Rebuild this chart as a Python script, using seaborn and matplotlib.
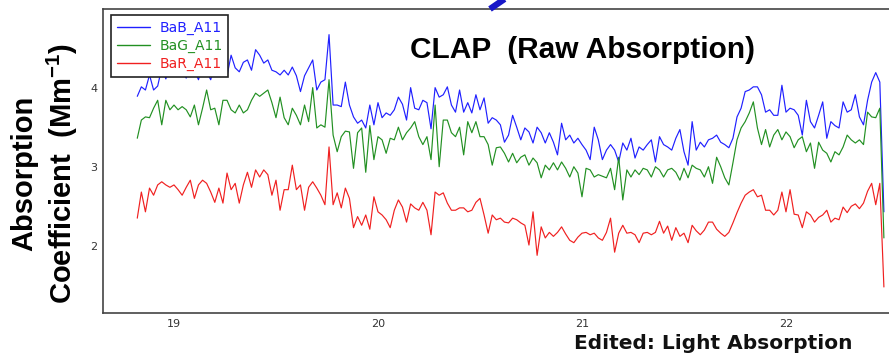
import matplotlib
matplotlib.use("Agg")
import matplotlib.pyplot as plt
import seaborn as sns
import pandas as pd
from matplotlib.ticker import MultipleLocator, FixedLocator, FixedFormatter
from matplotlib.lines import Line2D

# ---------------- data ----------------
time_days = [
    18.82, 18.84, 18.86, 18.88, 18.90, 18.92, 18.94, 18.96, 18.98, 19.00,
    19.02, 19.04, 19.06, 19.08, 19.10, 19.12, 19.14, 19.16, 19.18, 19.20,
    19.22, 19.24, 19.26, 19.28, 19.30, 19.32, 19.34, 19.36, 19.38, 19.40,
    19.42, 19.44, 19.46, 19.48, 19.50, 19.52, 19.54, 19.56, 19.58, 19.60,
    19.62, 19.64, 19.66, 19.68, 19.70, 19.72, 19.74, 19.76, 19.78, 19.80,
    19.82, 19.84, 19.86, 19.88, 19.90, 19.92, 19.94, 19.96, 19.98, 20.00,
    20.02, 20.04, 20.06, 20.08, 20.10, 20.12, 20.14, 20.16, 20.18, 20.20,
    20.22, 20.24, 20.26, 20.28, 20.30, 20.32, 20.34, 20.36, 20.38, 20.40,
    20.42, 20.44, 20.46, 20.48, 20.50, 20.52, 20.54, 20.56, 20.58, 20.60,
    20.62, 20.64, 20.66, 20.68, 20.70, 20.72, 20.74, 20.76, 20.78, 20.80,
    20.82, 20.84, 20.86, 20.88, 20.90, 20.92, 20.94, 20.96, 20.98, 21.00,
    21.02, 21.04, 21.06, 21.08, 21.10, 21.12, 21.14, 21.16, 21.18, 21.20,
    21.22, 21.24, 21.26, 21.28, 21.30, 21.32, 21.34, 21.36, 21.38, 21.40,
    21.42, 21.44, 21.46, 21.48, 21.50, 21.52, 21.54, 21.56, 21.58, 21.60,
    21.62, 21.64, 21.66, 21.68, 21.70, 21.72, 21.74, 21.76, 21.78, 21.80,
    21.82, 21.84, 21.86, 21.88, 21.90, 21.92, 21.94, 21.96, 21.98, 22.00,
    22.02, 22.04, 22.06, 22.08, 22.10, 22.12, 22.14, 22.16, 22.18, 22.20,
    22.22, 22.24, 22.26, 22.28, 22.30, 22.32, 22.34, 22.36, 22.38, 22.40,
    22.42, 22.44, 22.46, 22.48,
]

bab_a11 = [
    3.89, 4.01, 3.97, 4.16, 3.97, 4.02, 4.25, 4.11, 4.27, 4.16,
    4.32, 4.20, 4.12, 4.32, 4.22, 4.10, 4.29, 4.20, 4.10, 4.30,
    4.20, 4.35, 4.15, 4.41, 4.25, 4.20, 4.32, 4.35, 4.22, 4.48,
    4.41, 4.31, 4.35, 4.22, 4.20, 4.16, 4.22, 4.16, 4.26, 4.15,
    3.95, 4.15, 4.25, 4.35, 3.97, 4.07, 4.10, 4.67, 3.78, 3.78,
    3.76, 4.07, 3.78, 3.63, 3.55, 3.59, 3.49, 3.78, 3.53, 3.81,
    3.62, 3.68, 3.65, 3.72, 3.88, 3.79, 3.59, 4.00, 3.74, 3.72,
    3.84, 3.81, 3.48, 4.00, 3.88, 3.91, 4.01, 3.78, 3.69, 3.97,
    3.69, 3.81, 3.68, 3.91, 3.72, 3.87, 3.55, 3.62, 3.59, 3.53,
    3.31, 3.40, 3.65, 3.50, 3.34, 3.49, 3.44, 3.30, 3.50, 3.43,
    3.30, 3.43, 3.31, 3.15, 3.55, 3.34, 3.40, 3.30, 3.36, 3.28,
    3.21, 3.09, 3.50, 3.34, 3.09, 3.21, 3.28, 3.21, 3.06, 3.30,
    3.21, 3.36, 3.11, 3.25, 3.21, 3.28, 3.34, 3.06, 3.38, 3.28,
    3.25, 3.21, 3.36, 3.47, 3.19, 3.02, 3.57, 3.21, 3.31, 3.25,
    3.34, 3.36, 3.40, 3.31, 3.28, 3.24, 3.36, 3.63, 3.74, 3.95,
    3.97, 4.01, 4.01, 3.91, 3.69, 3.72, 3.65, 3.65, 4.03, 3.69,
    3.74, 3.72, 3.65, 3.40, 3.84, 3.57, 3.49, 3.65, 3.82, 3.36,
    3.57, 3.52, 3.49, 3.82, 3.69, 3.72, 3.91, 3.63, 3.53, 3.84,
    4.07, 4.19, 4.07, 2.43,
]

bag_a11 = [
    3.36, 3.59, 3.63, 3.62, 3.74, 3.84, 3.53, 3.84, 3.72, 3.78,
    3.72, 3.76, 3.72, 3.63, 3.78, 3.53, 3.74, 3.97, 3.72, 3.74,
    3.53, 3.84, 3.84, 3.72, 3.68, 3.78, 3.68, 3.72, 3.84, 3.93,
    3.89, 3.93, 3.97, 3.81, 3.62, 3.88, 3.62, 3.53, 3.74, 3.65,
    3.53, 3.78, 3.57, 4.00, 3.49, 3.53, 3.50, 4.10, 3.40, 3.19,
    3.38, 3.45, 3.44, 2.98, 3.43, 3.49, 2.93, 3.52, 3.09, 3.38,
    3.34, 3.17, 3.36, 3.34, 3.50, 3.34, 3.43, 3.49, 3.57, 3.38,
    3.28, 3.38, 3.09, 3.78, 3.00, 3.59, 3.59, 3.43, 3.38, 3.50,
    3.15, 3.57, 3.43, 3.57, 3.38, 3.38, 3.28, 3.02, 3.24, 3.25,
    3.17, 3.06, 3.17, 3.05, 3.12, 3.15, 3.02, 3.11, 3.05, 2.86,
    3.02, 2.96, 3.05, 2.96, 3.06, 2.98, 2.87, 3.00, 2.92, 2.62,
    2.98, 2.96, 2.87, 2.90, 2.88, 2.86, 2.98, 2.71, 3.12, 2.58,
    2.96, 2.87, 2.96, 2.90, 2.98, 2.96, 2.87, 3.00, 2.96, 2.87,
    2.96, 2.98, 2.93, 2.83, 2.98, 2.86, 3.02, 2.98, 2.96, 2.87,
    3.00, 2.79, 3.12, 3.00, 2.86, 2.77, 3.05, 3.34, 3.49, 3.57,
    3.68, 3.82, 3.49, 3.28, 3.47, 3.25, 3.40, 3.47, 3.34, 3.44,
    3.38, 3.24, 3.34, 3.38, 3.19, 3.30, 2.98, 3.31, 3.21, 3.17,
    3.06, 3.19, 3.15, 3.25, 3.40, 3.34, 3.30, 3.34, 3.28, 3.69,
    3.63, 3.62, 3.74, 2.10,
]

bar_a11 = [
    2.35, 2.68, 2.43, 2.73, 2.64, 2.77, 2.81, 2.77, 2.74, 2.77,
    2.71, 2.64, 2.74, 2.83, 2.60, 2.77, 2.83, 2.79, 2.68, 2.55,
    2.73, 2.54, 2.92, 2.71, 2.79, 2.54, 2.77, 2.93, 2.74, 2.96,
    2.87, 2.96, 2.90, 2.64, 2.83, 2.45, 2.71, 2.71, 3.02, 2.71,
    2.77, 2.45, 2.74, 2.81, 2.73, 2.64, 2.52, 3.25, 2.52, 2.67,
    2.48, 2.73, 2.60, 2.23, 2.37, 2.26, 2.39, 2.21, 2.62, 2.43,
    2.39, 2.33, 2.23, 2.45, 2.58, 2.49, 2.30, 2.53, 2.48, 2.45,
    2.55, 2.45, 2.14, 2.68, 2.64, 2.67, 2.54, 2.45, 2.45, 2.48,
    2.48, 2.43, 2.45, 2.55, 2.60, 2.39, 2.16, 2.39, 2.33, 2.35,
    2.30, 2.29, 2.35, 2.33, 2.29, 2.26, 2.01, 2.43, 1.88, 2.24,
    2.10, 2.17, 2.12, 2.17, 2.24, 2.15, 2.07, 2.04, 2.11, 2.16,
    2.17, 2.14, 2.16, 2.10, 2.07, 2.17, 2.35, 1.92, 2.16, 2.26,
    2.16, 2.17, 2.14, 2.04, 2.16, 2.17, 2.14, 2.17, 2.31, 2.16,
    2.25, 2.07, 2.23, 2.12, 2.16, 2.04, 2.26, 2.19, 2.14, 2.20,
    2.30, 2.30, 2.21, 2.16, 2.12, 2.17, 2.29, 2.42, 2.54, 2.64,
    2.68, 2.71, 2.62, 2.64, 2.45, 2.45, 2.39, 2.45, 2.68, 2.43,
    2.71, 2.40, 2.39, 2.23, 2.43, 2.39, 2.30, 2.36, 2.39, 2.45,
    2.30, 2.35, 2.33, 2.49, 2.42, 2.50, 2.53, 2.47, 2.54, 2.69,
    2.79, 2.52, 2.79, 1.48,
]

series_names = ["BaB_A11", "BaG_A11", "BaR_A11"]
x_ticks = [19, 20, 21, 22]
x_tick_labels = ["19", "20", "21", "22"]
y_ticks = [2, 3, 4]
y_tick_labels = ["2", "3", "4"]
title_text = "CLAP  (Raw Absorption)"
ylabel_text = "Absorption\nCoefficient  (Mm$^{\\mathbf{-1}}$)"
footer_text = "Edited: Light Absorption"

# ---------------- styling ----------------
sns.set_style("white")
plt.rcParams["font.family"] = ["DejaVu Sans"]
plt.rcParams["mathtext.fontset"] = "custom"
plt.rcParams["mathtext.rm"] = "Liberation Sans"
plt.rcParams["mathtext.bf"] = "Liberation Sans:bold"

colors = {"BaB_A11": "#2020ff", "BaG_A11": "#229022", "BaR_A11": "#f02020"}

W, H = 889, 355
fig = plt.figure(figsize=(W / 100, H / 100), dpi=100)
fig.patch.set_facecolor("white")
ax = fig.add_axes([103 / W, 1 - 313 / H, 1 - 103 / W, (313 - 9) / H])

df = pd.DataFrame({
    "time": time_days * 3,
    "value": bab_a11 + bag_a11 + bar_a11,
    "series": [series_names[0]] * len(time_days)
    + [series_names[1]] * len(time_days)
    + [series_names[2]] * len(time_days),
})

sns.lineplot(data=df, x="time", y="value", hue="series", hue_order=series_names,
             palette=colors, estimator=None, sort=False, linewidth=0.85, ax=ax)

ax.set_xlim(18.652, 22.505)
ax.set_ylim(1.151, 4.994)
ax.set_xlabel("")
ax.set_ylabel("")

ax.xaxis.set_major_locator(FixedLocator(x_ticks))
ax.xaxis.set_major_formatter(FixedFormatter(x_tick_labels))
ax.yaxis.set_major_locator(FixedLocator(y_ticks))
ax.yaxis.set_major_formatter(FixedFormatter(y_tick_labels))
ax.xaxis.set_minor_locator(MultipleLocator(0.25))
ax.yaxis.set_minor_locator(MultipleLocator(0.25))
ax.tick_params(which="both", direction="in", length=3.5, width=0.9,
               color="#444444", top=False, right=False)
ax.tick_params(which="major", labelsize=8, labelcolor="#333333", pad=4)

for side in ["left", "bottom", "top"]:
    ax.spines[side].set_color("#444444")
    ax.spines[side].set_linewidth(1.2)
ax.spines["right"].set_visible(False)

handles, labels = ax.get_legend_handles_labels()
leg = ax.legend(handles, labels, loc="upper left",
                bbox_to_anchor=(111 / W, 1 - 15 / H), bbox_transform=fig.transFigure,
                borderaxespad=0, fontsize=10, frameon=True, fancybox=False,
                framealpha=1, edgecolor="#222222", labelcolor="linecolor",
                handlelength=2.4, handletextpad=0.7, labelspacing=0.3,
                borderpad=0.4)
leg.get_frame().set_linewidth(1.2)
for h in leg.legend_handles:
    h.set_linewidth(1.0)

fig.text(583 / W, 1 - 58 / H, title_text, ha="center", va="baseline",
         fontsize=21.5, fontweight="bold", family="Liberation Sans", color="black")

fig.text(45 / W, 1 - 173 / H, ylabel_text, ha="center", va="center",
         rotation=90, multialignment="center", linespacing=1.25,
         fontsize=21, fontweight="bold", family="Liberation Sans", color="black")

fig.text(574 / W, 1 - 349 / H, footer_text, ha="left", va="baseline",
         fontsize=14.5, fontweight="bold", family="DejaVu Sans", color="#111111")

# blue arrow fragment at the top edge
fig.add_artist(Line2D([490 / W, 506 / W], [1 - 9 / H, 1 + 2 / H],
                      transform=fig.transFigure, color="#1717c8",
                      linewidth=4.5, solid_capstyle="butt"))

fig.savefig("out.png", dpi=100, facecolor="white")
